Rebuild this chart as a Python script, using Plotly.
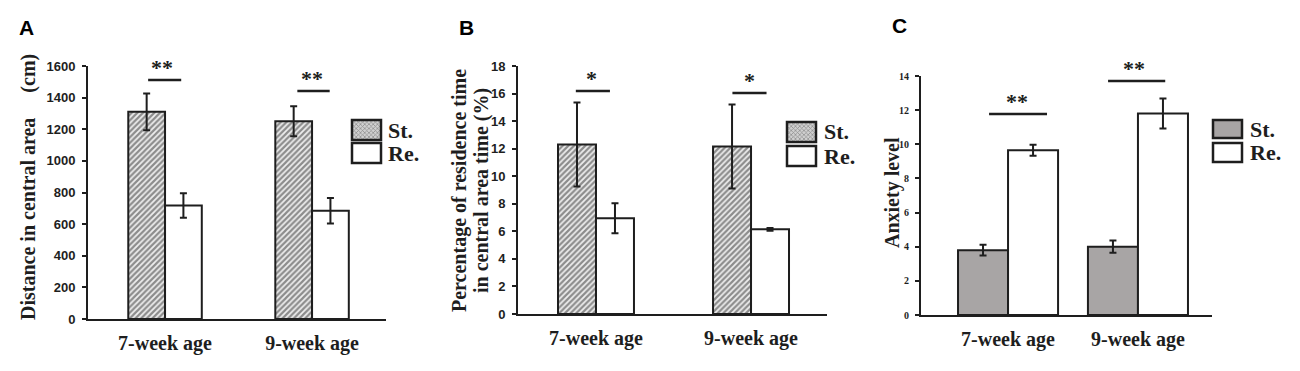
import plotly.graph_objects as go

categories = ["7-week age", "9-week age"]

# Panel A: distance in central area (cm)
a_st = [1310, 1250]
a_st_err = [116, 95]
a_re = [718, 685]
a_re_err = [78, 81]

# Panel B: percentage of residence time in central area (%)
b_st = [12.3, 12.15]
b_st_err = [3.05, 3.05]
b_re = [6.95, 6.15]
b_re_err = [1.09, 0.1]

# Panel C: anxiety level
c_st = [3.8, 4.0]
c_st_err = [0.32, 0.36]
c_re = [9.65, 11.8]
c_re_err = [0.32, 0.88]

OFF = 8  # page body margin
W, H = 1300 - 2 * OFF, 371 - 2 * OFF
SERIF = "Liberation Serif, Times New Roman, serif"
SANS = "Liberation Sans, Arial, sans-serif"
DARK = "#1e1e1e"

def px(x):
    return (x - OFF) / W

def py(y):
    return 1 - (y - OFF) / H

fig = go.Figure()

hatch = dict(shape="/", size=4, solidity=0.55, fgcolor="#2a2a2a", bgcolor="#eeeeee", fillmode="overlay")

def add_panel(xa, ya, st, st_err, re, re_err, bw, st_pattern, st_color):
    err_style = dict(type="data", thickness=2, width=3.5, color=DARK, visible=True)
    st_marker = dict(color=st_color, line=dict(color=DARK, width=2))
    if st_pattern:
        st_marker["pattern"] = hatch
    fig.add_trace(go.Bar(x=[0, 1], y=st, width=bw, offset=-bw, marker=st_marker,
                         error_y=dict(array=st_err, **err_style), xaxis=xa, yaxis=ya,
                         name="St.", showlegend=False, cliponaxis=False))
    fig.add_trace(go.Bar(x=[0, 1], y=re, width=bw, offset=0,
                         marker=dict(color="white", line=dict(color=DARK, width=2)),
                         error_y=dict(array=re_err, **err_style), xaxis=xa, yaxis=ya,
                         name="Re.", showlegend=False, cliponaxis=False))

add_panel("x", "y", a_st, a_st_err, a_re, a_re_err, 0.25, True, "white")
add_panel("x2", "y2", b_st, b_st_err, b_re, b_re_err, 0.245, True, "white")
add_panel("x3", "y3", c_st, c_st_err, c_re, c_re_err, 0.385, False, "#a8a5a5")

axis_common = dict(showline=True, linecolor=DARK, linewidth=2, showgrid=False, zeroline=False, automargin=False)

def xaxis(domain, rng):
    return dict(domain=domain, range=rng, tickvals=[0, 1], ticktext=categories, ticks="",
                tickfont=dict(family=SERIF, size=20, color=DARK, weight="bold"),
                ticklabelstandoff=5, **axis_common)

def yaxis(domain, rng, dtick, font):
    return dict(domain=domain, range=rng, dtick=dtick, ticks="outside", ticklen=4, tickwidth=1.5,
                tickcolor=DARK, tickfont=font, ticklabelstandoff=4, **axis_common)

sans_tick = dict(family=SANS, size=13, color=DARK, weight="bold")
serif_tick = dict(family=SERIF, size=10, color=DARK, weight="bold")

fig.update_layout(
    width=W, height=H, margin=dict(l=0, r=0, t=0, b=0, pad=0), autosize=False,
    paper_bgcolor="white", plot_bgcolor="white", barmode="overlay", showlegend=False,
    xaxis=xaxis([px(88), px(386)], [-0.524, 1.503]),
    yaxis=yaxis([py(319), py(66)], [0, 1600], 200, sans_tick),
    xaxis2=dict(anchor="y2", **xaxis([px(518), px(827)], [-0.503, 1.49])),
    yaxis2=dict(anchor="x2", **yaxis([py(314), py(66)], [0, 18], 2, sans_tick)),
    xaxis3=dict(anchor="y3", **xaxis([px(921), px(1212)], [-0.67, 1.57])),
    yaxis3=dict(anchor="x3", **yaxis([py(315), py(76)], [0, 14], 2, serif_tick)),
)

# Patterned legend swatches for panels A and B (small hidden axes)
for i, (x0, x1, y0, y1) in enumerate([(352, 381, 120, 140), (787, 816, 122, 142)]):
    n = 4 + i
    fig.add_trace(go.Bar(x=[0], y=[1], width=1, xaxis=f"x{n}", yaxis=f"y{n}", showlegend=False,
                         marker=dict(color="#cfcfcf", line=dict(width=0),
                                     pattern=dict(shape="x", size=3, solidity=0.4, fgcolor="#404040",
                                                  bgcolor="#d0d0d0", fillmode="overlay"))))
    fig.layout[f"xaxis{n}"] = dict(domain=[px(x0), px(x1)], range=[-0.5, 0.5], visible=False,
                                   anchor=f"y{n}", automargin=False)
    fig.layout[f"yaxis{n}"] = dict(domain=[py(y1), py(y0)], range=[0, 1], visible=False,
                                   anchor=f"x{n}", automargin=False)

shapes = []
annotations = []

# Legend boxes
legends = [
    (352, 381, 120, 140, 143, 163, 386, None),
    (787, 816, 122, 142, 146, 166, 822, None),
    (1213, 1242, 120, 138, 143, 162, 1248, "#a8a5a5"),
]
for x0, x1, s0, s1, r0, r1, tx, fillc in legends:
    shapes.append(dict(type="rect", xref="paper", yref="paper", x0=px(x0), x1=px(x1), y0=py(s1), y1=py(s0),
                       line=dict(color=DARK, width=2.5), fillcolor=fillc if fillc else "rgba(0,0,0,0)", layer="above"))
    shapes.append(dict(type="rect", xref="paper", yref="paper", x0=px(x0), x1=px(x1), y0=py(r1), y1=py(r0),
                       line=dict(color=DARK, width=2.5), fillcolor="white"))
    for label, yc in (("St.", (s0 + s1) / 2), ("Re.", (r0 + r1) / 2)):
        annotations.append(dict(text=label, xref="paper", yref="paper", x=px(tx), y=py(yc), xanchor="left",
                                yanchor="middle", showarrow=False,
                                font=dict(family=SERIF, size=22, color=DARK, weight="bold")))

# Significance brackets (x in category units, y in data units)
sig = [
    ("x", "y", -0.115, 0.11, 1511, -0.02, "**"),
    ("x", "y", 0.9, 1.12, 1442, 1.0, "**"),
    ("x2", "y2", -0.13, 0.09, 16.19, -0.03, "*"),
    ("x2", "y2", 0.88, 1.1, 16.04, 0.99, "*"),
    ("x3", "y3", -0.146, 0.30, 11.77, 0.07, "**"),
    ("x3", "y3", 0.77, 1.21, 13.71, 0.97, "**"),
]
for xr, yr, x0, x1, yv, xs, txt in sig:
    shapes.append(dict(type="line", xref=xr, yref=yr, x0=x0, x1=x1, y0=yv, y1=yv,
                       line=dict(color=DARK, width=2.5)))
    annotations.append(dict(text=txt, xref=xr, yref=yr, x=xs, y=yv, xanchor="center", yanchor="bottom",
                            yshift=-2, showarrow=False,
                            font=dict(family=SERIF, size=22, color=DARK, weight="bold")))

# Panel letters
for letter, x, y in (("A", 17, 27), ("B", 457, 27), ("C", 890, 25)):
    annotations.append(dict(text=letter, xref="paper", yref="paper", x=px(x), y=py(y), xanchor="left",
                            yanchor="middle", showarrow=False,
                            font=dict(family=SANS, size=21, color="black", weight="bold")))

# Y-axis titles
title_font = dict(family=SERIF, size=20, color=DARK, weight="bold")
for text, x, y in (("Distance in central area\u2003 (cm)", 28, 187),
                   ("Percentage of residence time", 459, 191),
                   ("in central area time (%)", 481, 191),
                   ("Anxiety level", 892, 193)):
    annotations.append(dict(text=text, xref="paper", yref="paper", x=px(x), y=py(y), textangle=-90,
                            showarrow=False, xanchor="center", yanchor="middle", font=title_font))

fig.update_layout(shapes=shapes, annotations=annotations)

fig.write_html("out.html")
